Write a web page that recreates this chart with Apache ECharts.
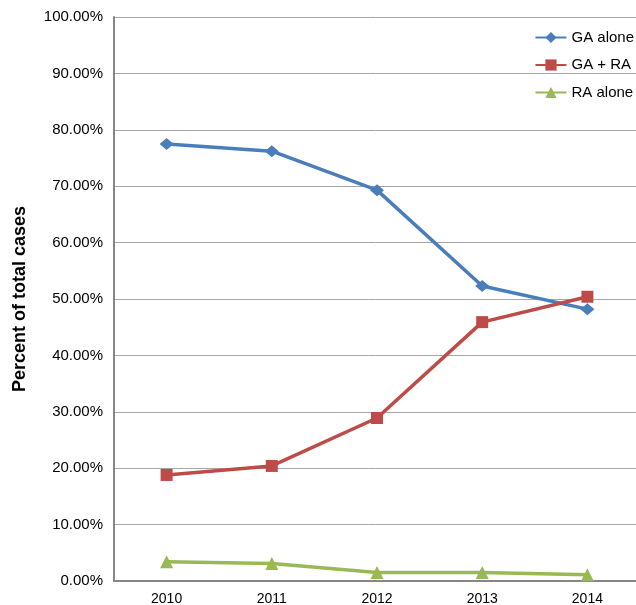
<!DOCTYPE html>
<html><head><meta charset="utf-8">
<script src="https://cdn.jsdelivr.net/npm/echarts@6/dist/echarts.min.js"></script>
<style>html,body{margin:0;padding:0;background:#fff}#c{width:636px;height:605px}</style>
</head><body><div id="c"></div>
<script>
const years = ['2010','2011','2012','2013','2014'];
const gaAlone = [77.5, 76.2, 69.3, 52.3, 48.2];
const gaRa = [18.8, 20.4, 28.9, 45.9, 50.4];
const raAlone = [3.4, 3.1, 1.5, 1.5, 1.1];
const seriesNames = ['GA alone', 'GA + RA', 'RA alone'];

const chart = echarts.init(document.getElementById('c'), null, {renderer: 'canvas'});
const font = 'Liberation Sans, Arial, Helvetica, sans-serif';
function line(name, data, color, symbol, size) {
  return {
    name, type: 'line', data, symbol, symbolSize: size,
    lineStyle: {color, width: 3.5}, itemStyle: {color},
    emphasis: {disabled: true}, animation: false
  };
}
chart.setOption({
  animation: false,
  grid: {left: 114, right: -4, top: 17, bottom: 24, outerBoundsMode: 'none', containLabel: false},
  legend: {
    orient: 'vertical', right: -3, top: 25, itemGap: 12.5,
    itemWidth: 31, itemHeight: 14,
    textStyle: {fontFamily: font, fontSize: 15, color: '#000'},
    data: seriesNames
  },
  xAxis: {
    type: 'category', data: years, boundaryGap: true,
    axisLine: {lineStyle: {color: '#868686', width: 2}},
    axisTick: {show: false},
    axisLabel: {fontFamily: font, fontSize: 14, color: '#000', margin: 11}
  },
  yAxis: {
    type: 'value', min: 0, max: 100, interval: 10,
    name: 'Percent of total cases', nameLocation: 'middle', nameGap: 85,
    nameTextStyle: {fontFamily: font, fontSize: 18, fontWeight: 'bold', color: '#000'},
    axisLine: {show: true, lineStyle: {color: '#868686', width: 2}},
    axisTick: {show: false},
    splitLine: {lineStyle: {color: '#a6a6a6', width: 1}},
    axisLabel: {fontFamily: font, fontSize: 15, color: '#000', margin: 11,
      formatter: v => v.toFixed(2) + '%'}
  },
  series: [
    line(seriesNames[0], gaAlone, '#4a7ebb', 'diamond', [14, 12]),
    line(seriesNames[1], gaRa, '#be4b48', 'rect', 12),
    line(seriesNames[2], raAlone, '#98b954', 'triangle', 13)
  ]
});
</script></body></html>
